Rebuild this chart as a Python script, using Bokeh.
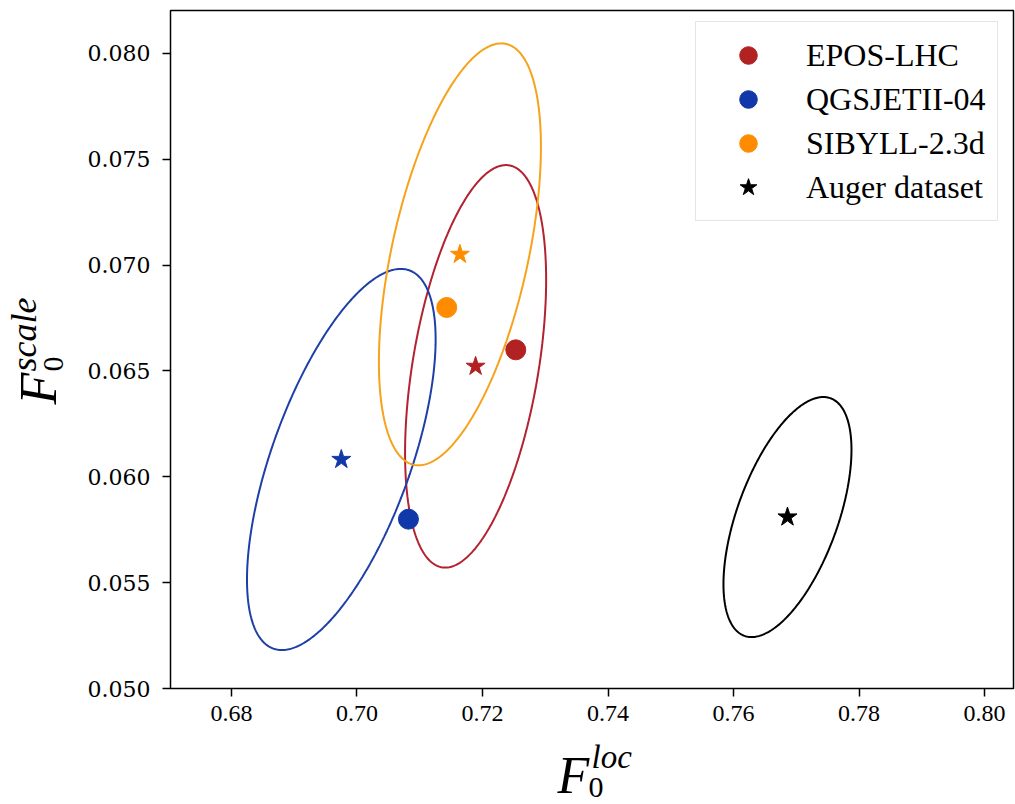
import numpy as np
from bokeh.plotting import figure
from bokeh.models import (Range1d, Label, Legend, LegendItem, FixedTicker, PrintfTickFormatter,
                          LinearAxis, BoxAnnotation)
from bokeh.embed import file_html
from bokeh.resources import INLINE

# ---- data ----
models = ["EPOS-LHC", "QGSJETII-04", "SIBYLL-2.3d"]
colors = ["#B22222", "#1038A8", "#FF8C00"]
line_colors = ["#B22230", "#1E3FA8", "#F7A21B"]
best_x = [0.7253, 0.7082, 0.7143]      # circles
best_y = [0.0660, 0.0580, 0.0680]
star_x = [0.7189, 0.6975, 0.7164]      # stars (ellipse centres)
star_y = [0.06522, 0.06082, 0.07051]
ell_a = [0.01124, 0.01503, 0.01291]    # half extent in x
ell_b = [0.009508, 0.009003, 0.009966] # half extent in y
ell_rho = [0.43, 0.63, 0.51]           # correlation

auger_x = [0.7686]
auger_y = [0.0581]
auger_a = 0.0102
auger_b = 0.00567
auger_rho = 0.56

x_ticks = [0.68, 0.70, 0.72, 0.74, 0.76, 0.78, 0.80]
y_ticks = [0.050, 0.055, 0.060, 0.065, 0.070, 0.075, 0.080]

# axes box (data limits)
x_lo, x_hi = 0.67028, 0.80462
y_lo, y_hi = 0.050, 0.08203

# ---- layout (pixels) ----
W, H = 1015, 804
box_l, box_r, box_t, box_b = 170, 1013, 10, 688
sx = (box_r - box_l) / (x_hi - x_lo)
sy = (box_b - box_t) / (y_hi - y_lo)
x_start = x_lo - box_l / sx
x_end = x_hi + (W - box_r) / sx
y_start = y_lo - (H - box_b) / sy
y_end = y_hi + box_t / sy


def ellipse(cx, cy, a, b, rho, n=361):
    t = np.linspace(0, 2 * np.pi, n)
    xs = cx + a * np.cos(t)
    ys = cy + b * (rho * np.cos(t) + np.sqrt(1 - rho ** 2) * np.sin(t))
    return xs, ys


p = figure(width=W, height=H, title=None,
           x_range=Range1d(x_start, x_end), y_range=Range1d(y_start, y_end),
           output_backend="svg", toolbar_location=None,
           x_axis_location=None, y_axis_location=None,
           min_border=0, min_border_left=0, min_border_right=0, min_border_top=0, min_border_bottom=0)
p.grid.visible = False
p.outline_line_color = None
p.background_fill_color = "white"
p.border_fill_color = "white"

xaxis = LinearAxis(fixed_location=y_lo, ticker=FixedTicker(ticks=x_ticks),
                   formatter=PrintfTickFormatter(format="%.2f"))
yaxis = LinearAxis(fixed_location=x_lo, ticker=FixedTicker(ticks=y_ticks),
                   formatter=PrintfTickFormatter(format="%.3f"))
for ax in (xaxis, yaxis):
    ax.major_tick_out = 8
    ax.major_tick_in = 0
    ax.minor_tick_line_color = None
    ax.axis_line_color = None
    ax.major_tick_line_width = 1.5
    ax.major_label_text_color = "black"
xaxis.major_label_text_font = "Liberation Serif"
xaxis.major_label_text_font_size = "24px"
xaxis.major_label_standoff = 9
yaxis.major_label_text_font = "DejaVu Serif"
yaxis.major_label_text_font_size = "22px"
yaxis.major_label_standoff = 12
p.add_layout(xaxis, "below")
p.add_layout(yaxis, "left")

# axes box
p.add_layout(BoxAnnotation(left=x_lo, right=x_hi, bottom=y_lo, top=y_hi,
                           fill_alpha=0, line_color="black", line_alpha=1.0, line_width=1.5))

# ellipses
for i in range(len(models)):
    xs, ys = ellipse(star_x[i], star_y[i], ell_a[i], ell_b[i], ell_rho[i])
    p.line(xs, ys, line_color=line_colors[i], line_width=2)
xs, ys = ellipse(auger_x[0], auger_y[0], auger_a, auger_b, auger_rho)
p.line(xs, ys, line_color="black", line_width=2)

items = []
for i, m in enumerate(models):
    r = p.scatter([best_x[i]], [best_y[i]], marker="circle", size=20,
                  fill_color=colors[i], line_color=colors[i])
    p.scatter([star_x[i]], [star_y[i]], marker="star", size=20,
              fill_color=colors[i], line_color=colors[i])
    items.append(LegendItem(label=m, renderers=[r]))
ra = p.scatter(auger_x, auger_y, marker="star", size=20, fill_color="black", line_color="black")
items.append(LegendItem(label="Auger dataset", renderers=[ra]))

legend = Legend(items=items, location=(695, H - 221), margin=0, padding=11,
                glyph_width=82, glyph_height=44, spacing=0, label_standoff=17,
                label_text_font="Liberation Serif", label_text_font_size="32px",
                label_text_color="black",
                border_line_color="#cccccc", border_line_width=1.5,
                background_fill_color="white", background_fill_alpha=0.8)
p.add_layout(legend)

# axis labels (math-like, built from parts); screen units from the canvas bottom-left
serif = "Liberation Serif"
def lab(x, y, text, size, italic=True, angle=0.0):
    p.add_layout(Label(x=x, y=H - y, x_units="screen", y_units="screen", text=text, angle=angle,
                       text_font=serif, text_font_style="italic" if italic else "normal",
                       text_font_size=size, text_color="black",
                       text_align="left", text_baseline="alphabetic"))

lab(557, 775, "F", "52px")
lab(588, 787, "0", "30px", italic=False)
lab(591, 756, "loc", "33px")

lab(38, 404, "F", "52px", angle=np.pi / 2)
lab(53, 371, "0", "30px", italic=False, angle=np.pi / 2)
lab(23, 371, "scale", "36px", angle=np.pi / 2)

open("out.html", "w").write(file_html(p, INLINE))
